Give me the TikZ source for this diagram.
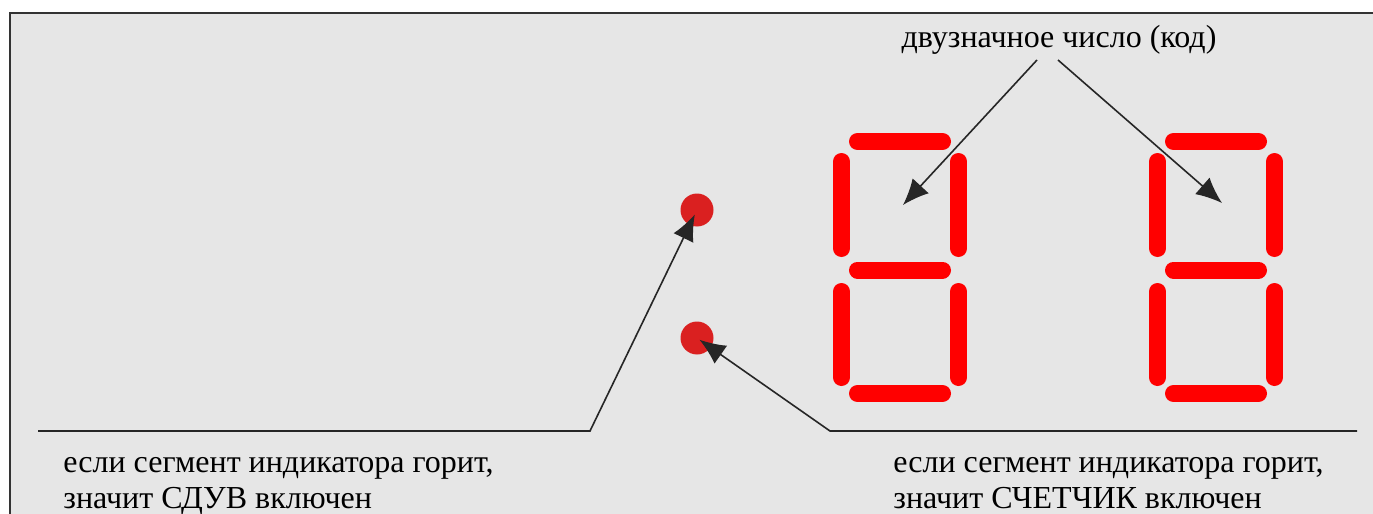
\documentclass[tikz,border=0pt]{standalone}
\usepackage{fontspec}
\setmainfont{Liberation Serif}
\usetikzlibrary{arrows.meta}
\tikzset{seg/.style = {draw=red, line width=8.5pt, line cap=round}}
\tikzset{led/.style = {fill=ledred, circle, inner sep=0, minimum size=16.5pt}}
\tikzset{pointer/.style = {draw=black!85, line width=0.8pt, -{Latex[length=13pt, width=11pt]}}}
\tikzset{lbl/.style = {font=\fontsize{16}{18}\selectfont, inner sep=0, anchor=base west}}
\definecolor{ledred}{RGB}{218, 32, 32}
\definecolor{panel}{RGB}{230, 230, 230}

\begin{document}
\begin{tikzpicture}[x=0.5pt, y=-0.5pt]
      \useasboundingbox (0, 0) rectangle (1373, 514);
      \fill [panel] (10, 13) rectangle (1373, 514);
      \draw [line width=1.25pt, black!80] (1373, 13) -- (10, 13) -- (10, 514);

      % two seven segment digits
      \foreach \dx in {0, 316} {
        \draw [seg] ({857.5+\dx}, 141.5) -- ({942.5+\dx}, 141.5);
        \draw [seg] ({857.5+\dx}, 270) -- ({942.5+\dx}, 270);
        \draw [seg] ({857.5+\dx}, 393.5) -- ({942.5+\dx}, 393.5);
        \draw [seg] ({841.5+\dx}, 161.5) -- ({841.5+\dx}, 248.5);
        \draw [seg] ({958.5+\dx}, 161.5) -- ({958.5+\dx}, 248.5);
        \draw [seg] ({841.5+\dx}, 291.5) -- ({841.5+\dx}, 377.5);
        \draw [seg] ({958.5+\dx}, 291.5) -- ({958.5+\dx}, 377.5);
      }

      \node [led] (upper) at (697, 210) {};
      \node [led] (lower) at (697, 338) {};

      \node [lbl, anchor=base] (code) at (1059, 47) {двузначное число (код)};
      \node [lbl] (sduv1) at (63, 472) {если сегмент индикатора горит,};
      \node [lbl] (sduv2) at (63, 508) {значит СДУВ включен};
      \node [lbl] (cnt1) at (893, 472) {если сегмент индикатора горит,};
      \node [lbl] (cnt2) at (893, 508) {значит СЧЕТЧИК включен};

      \coordinate (startL) at (38, 431);
      \coordinate (bendL) at (590, 431);
      \coordinate (bendR) at (830, 431);
      \coordinate (endR) at (1357, 431);
      \coordinate (codeL) at (1037, 60);
      \coordinate (codeR) at (1058, 60);
      \coordinate (holeL) at (903, 205);
      \coordinate (holeR) at (1222, 203);

      \draw [pointer, shorten >=2.5pt] (startL) -- (bendL) -- (upper.center);
      \draw [pointer, shorten >=1.5pt] (endR) -- (bendR) -- (lower.center);
      \draw [pointer] (codeL) -- (holeL);
      \draw [pointer] (codeR) -- (holeR);
    \end{tikzpicture}
\end{document}
